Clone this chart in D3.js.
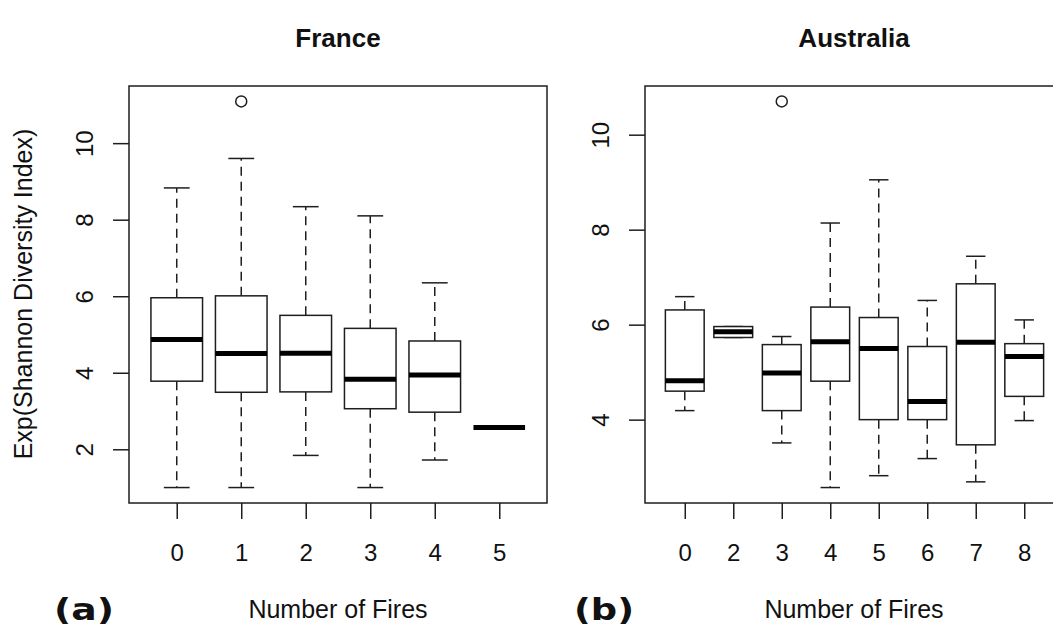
<!DOCTYPE html>
<html>
<head>
<meta charset="utf-8">
<script src="https://cdn.jsdelivr.net/npm/d3@7"></script>
<style>
    body { margin: 0; background: #fff; }
    svg { display: block; }
    text { font-family: "Liberation Sans", Arial, sans-serif; fill: #111; }
</style>
</head>
<body>
<div class="container"></div>
<script>
// France (a)
let frCats = ["0", "1", "2", "3", "4", "5"];
let frLow = [1.0, 1.0, 1.84, 1.0, 1.72, 2.57];
let frQ1 = [3.78, 3.49, 3.50, 3.06, 2.97, 2.57];
let frMed = [4.87, 4.50, 4.51, 3.83, 3.94, 2.57];
let frQ3 = [5.96, 6.01, 5.50, 5.16, 4.83, 2.57];
let frHigh = [8.83, 9.60, 8.34, 8.10, 6.35, 2.57];
let frOut = [{cat: "1", value: 11.09}];
let frTicks = [2, 4, 6, 8, 10];

// Australia (b)
let auCats = ["0", "2", "3", "4", "5", "6", "7", "8"];
let auLow = [4.19, 5.73, 3.51, 2.57, 2.82, 3.18, 2.69, 3.98];
let auQ1 = [4.60, 5.73, 4.19, 4.81, 4.00, 4.00, 3.47, 4.49];
let auMed = [4.82, 5.85, 4.98, 5.64, 5.50, 4.38, 5.63, 5.33];
let auQ3 = [6.31, 5.96, 5.58, 6.37, 6.15, 5.54, 6.86, 5.60];
let auHigh = [6.59, 5.96, 5.75, 8.14, 9.05, 6.51, 7.44, 6.10];
let auOut = [{cat: "3", value: 10.70}];
let auTicks = [4, 6, 8, 10];

let ink = "#1e1e1e";

let svg = d3.select(".container").append("svg")
    .attr("width", 1053)
    .attr("height", 627);

// R style: pad the range by 4% on each side
function padded(lo, hi) {
    let r = hi - lo;
    return [lo - 0.04 * r, hi + 0.04 * r];
}

function drawPanel(p) {
    let n = p.cats.length;
    let x = d3.scaleLinear()
        .domain(padded(0.5, n + 0.5))
        .range([p.left, p.right]);

    let allVals = p.low.concat(p.high, p.out.map(d => d.value));
    let y = d3.scaleLinear()
        .domain(padded(d3.min(allVals), d3.max(allVals)))
        .range([p.bottom, p.top]);

    let g = svg.append("g");

    // y axis
    let yAxis = g.append("g")
        .attr("transform", "translate(" + p.left + ",0)")
        .call(d3.axisLeft(y).tickValues(p.ticks).tickSize(16).tickFormat(d3.format("d")));
    yAxis.select(".domain").remove();
    yAxis.selectAll("line").attr("stroke", ink).attr("stroke-width", 1.5);
    yAxis.selectAll("text")
        .attr("x", 0).attr("dy", 0)
        .attr("transform", "translate(-36,0) rotate(-90)")
        .attr("text-anchor", "middle")
        .style("font-family", "Liberation Sans, Arial, sans-serif")
        .style("font-size", "24px")
        .attr("fill", "#111");

    // x axis
    let xAxis = g.append("g")
        .attr("transform", "translate(0," + p.bottom + ")")
        .call(d3.axisBottom(x)
            .tickValues(d3.range(1, n + 1))
            .tickFormat(i => p.cats[i - 1])
            .tickSize(16)
            .tickPadding(25));
    xAxis.select(".domain").remove();
    xAxis.selectAll("line").attr("stroke", ink).attr("stroke-width", 1.5);
    xAxis.selectAll("text")
        .style("font-family", "Liberation Sans, Arial, sans-serif")
        .style("font-size", "24px")
        .attr("fill", "#111");

    // frame
    g.append("rect")
        .attr("x", p.left).attr("y", p.top)
        .attr("width", p.right - p.left)
        .attr("height", p.bottom - p.top)
        .attr("fill", "none")
        .attr("stroke", ink)
        .attr("stroke-width", 1.5);

    let bw = x(1.8) - x(1);
    let sw = x(1.4) - x(1);

    let boxes = g.selectAll(".box")
        .data(d3.range(n))
        .enter().append("g")
        .attr("class", "box");

    // whiskers
    boxes.append("line")
        .attr("x1", i => x(i + 1)).attr("x2", i => x(i + 1))
        .attr("y1", i => y(p.q3[i])).attr("y2", i => y(p.high[i]))
        .attr("stroke", ink).attr("stroke-width", 1.5)
        .attr("stroke-dasharray", "9,6");
    boxes.append("line")
        .attr("x1", i => x(i + 1)).attr("x2", i => x(i + 1))
        .attr("y1", i => y(p.q1[i])).attr("y2", i => y(p.low[i]))
        .attr("stroke", ink).attr("stroke-width", 1.5)
        .attr("stroke-dasharray", "9,6");

    // staples
    boxes.append("line")
        .attr("x1", i => x(i + 1) - sw / 2).attr("x2", i => x(i + 1) + sw / 2)
        .attr("y1", i => y(p.high[i])).attr("y2", i => y(p.high[i]))
        .attr("stroke", ink).attr("stroke-width", 1.5);
    boxes.append("line")
        .attr("x1", i => x(i + 1) - sw / 2).attr("x2", i => x(i + 1) + sw / 2)
        .attr("y1", i => y(p.low[i])).attr("y2", i => y(p.low[i]))
        .attr("stroke", ink).attr("stroke-width", 1.5);

    // box
    boxes.append("rect")
        .attr("x", i => x(i + 1) - bw / 2)
        .attr("y", i => y(p.q3[i]))
        .attr("width", bw)
        .attr("height", i => y(p.q1[i]) - y(p.q3[i]))
        .attr("fill", "#fff")
        .attr("stroke", ink).attr("stroke-width", 1.5);

    // median
    boxes.append("line")
        .attr("x1", i => x(i + 1) - bw / 2).attr("x2", i => x(i + 1) + bw / 2)
        .attr("y1", i => y(p.med[i])).attr("y2", i => y(p.med[i]))
        .attr("stroke", "#000").attr("stroke-width", 5);

    // outliers
    g.selectAll(".out")
        .data(p.out)
        .enter().append("circle")
        .attr("class", "out")
        .attr("cx", d => x(p.cats.indexOf(d.cat) + 1))
        .attr("cy", d => y(d.value))
        .attr("r", 5.5)
        .attr("fill", "none")
        .attr("stroke", ink).attr("stroke-width", 1.5);

    g.append("text")
        .attr("x", p.titleX).attr("y", 47)
        .attr("text-anchor", "middle")
        .style("font-size", "26px")
        .style("font-weight", "bold")
        .text(p.title);

    g.append("text")
        .attr("x", p.titleX).attr("y", 618)
        .attr("text-anchor", "middle")
        .style("font-size", "25px")
        .text("Number of Fires");

    g.append("text")
        .attr("x", p.tagX).attr("y", 620)
        .attr("textLength", 60)
        .attr("lengthAdjust", "spacingAndGlyphs")
        .style("font-family", "DejaVu Sans, sans-serif")
        .style("font-size", "31px")
        .style("font-weight", "bold")
        .text(p.tag);
}

drawPanel({
    cats: frCats, low: frLow, q1: frQ1, med: frMed, q3: frQ3, high: frHigh,
    out: frOut, ticks: frTicks, title: "France", tag: "(a)",
    left: 129, right: 547, top: 86, bottom: 503, titleX: 338, tagX: 54
});

drawPanel({
    cats: auCats, low: auLow, q1: auQ1, med: auMed, q3: auQ3, high: auHigh,
    out: auOut, ticks: auTicks, title: "Australia", tag: "(b)",
    left: 645, right: 1064, top: 86, bottom: 503, titleX: 854, tagX: 574
});

svg.append("text")
    .attr("transform", "translate(32,294) rotate(-90)")
    .attr("text-anchor", "middle")
    .style("font-size", "25px")
    .text("Exp(Shannon Diversity Index)");
</script>
</body>
</html>
